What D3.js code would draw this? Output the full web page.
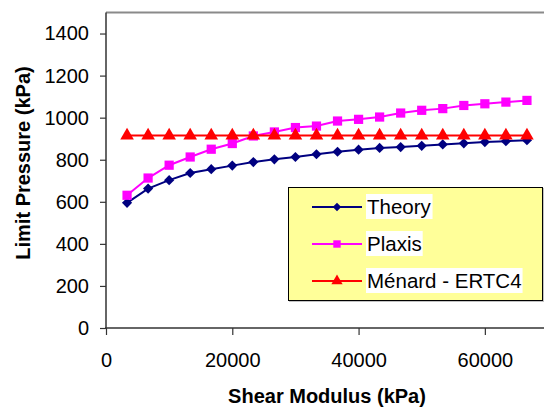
<!DOCTYPE html>
<html lang="en">
    <head>
       <meta charset="utf-8">
       <script src="https://d3js.org/d3.v7.min.js"></script>
       <style>
           body { margin: 0; background: #fff; }
           text { font-family: "Liberation Sans", Arial, sans-serif; }
       </style>
    </head>
    <body>

        <script>
            var width  = 544;
            var height = 407;

            // shear modulus (kPa)
            var shearModulus = [3333, 6667, 10000, 13333, 16667, 20000, 23333, 26667, 30000, 33333,
                                36667, 40000, 43333, 46667, 50000, 53333, 56667, 60000, 63333, 66667];

            // limit pressure (kPa) for each series
            var theory = [595, 663, 703, 737, 755, 772, 789, 802, 813, 826,
                          838, 848, 856, 860, 866, 873, 878, 884, 888, 893];
            var plaxis = [631, 713, 774, 813, 850, 877, 913, 932, 953, 960,
                          984, 992, 1003, 1022, 1035, 1043, 1058, 1066, 1074, 1082];
            var menard = [915, 915, 915, 915, 915, 915, 915, 915, 915, 915,
                          915, 915, 915, 915, 915, 915, 915, 915, 915, 915];

            var seriesNames  = ["Theory", "Plaxis", "Ménard - ERTC4"];
            var seriesColors = ["#000080", "#FF00FF", "#FF0000"];
            var seriesShapes = [d3.symbolSquare, d3.symbolSquare, d3.symbolTriangle];
            var seriesRotate = [45, 0, 0];
            var markerSize   = [52, 85, 80];
            var legendSize   = [36, 55, 55];
            var seriesValues = [theory, plaxis, menard];

            var xTicks = [0, 20000, 40000, 60000];
            var yTicks = [0, 200, 400, 600, 800, 1000, 1200, 1400];

            // plot area edges (avoid window.top)
            var plotLeft = 106, plotTop = 12.5, plotBottom = 328;

            var x = d3.scaleLinear().domain([0, 70000]).range([plotLeft, plotLeft + 442]);
            var y = d3.scaleLinear().domain([0, 1500]).range([plotBottom, plotTop]);

            var svg = d3.select("body")
                        .append("svg")
                        .attr("width", width)
                        .attr("height", height);

            // top border of the plot area
            svg.append("line")
               .attr("x1", plotLeft).attr("x2", width)
               .attr("y1", plotTop).attr("y2", plotTop)
               .attr("stroke", "#8a8a8a")
               .attr("stroke-width", 2);

            // axes
            var yAxis = svg.append("g")
                           .attr("transform", "translate(" + plotLeft + ",0)")
                           .call(d3.axisLeft(y).tickValues(yTicks).tickFormat(d3.format("d"))
                                   .tickSize(6).tickPadding(11).tickSizeOuter(0));
            var xAxis = svg.append("g")
                           .attr("transform", "translate(0," + plotBottom + ")")
                           .call(d3.axisBottom(x).tickValues(xTicks).tickFormat(d3.format("d"))
                                   .tickSize(7).tickPadding(17.5).tickSizeOuter(0));

            [xAxis, yAxis].forEach(function(a) {
                a.select(".domain").attr("stroke", "#333").attr("stroke-width", 1.5);
                a.selectAll(".tick line").attr("stroke", "#333").attr("stroke-width", 1.2);
                a.selectAll(".tick text")
                 .attr("fill", "#000")
                 .style("font-size", "20px")
                 .style("font-family", "'Liberation Sans', Arial, sans-serif");
            });
            yAxis.select(".domain").attr("d", "M0," + plotBottom + "V" + plotTop);
            xAxis.select(".domain").attr("d", "M" + (plotLeft - 1) + ",0H" + width);

            // axis titles
            svg.append("text")
               .attr("x", 327)
               .attr("y", 403)
               .attr("text-anchor", "middle")
               .style("font-size", "20px")
               .style("font-weight", "bold")
               .text("Shear Modulus (kPa)");

            svg.append("text")
               .attr("transform", "translate(30,163) rotate(-90)")
               .attr("text-anchor", "middle")
               .style("font-size", "20px")
               .style("font-weight", "bold")
               .text("Limit Pressure (kPa)");

            // series: line + markers
            var line = d3.line()
                         .x(function(d, i) { return x(shearModulus[i]); })
                         .y(function(d) { return y(d); });

            seriesValues.forEach(function(vals, k) {
                svg.append("path")
                   .attr("d", line(vals))
                   .attr("fill", "none")
                   .attr("stroke", seriesColors[k])
                   .attr("stroke-width", 2);

                svg.selectAll(".m" + k)
                   .data(vals)
                   .enter().append("path")
                   .attr("class", "m" + k)
                   .attr("transform", function(d, i) {
                       return "translate(" + x(shearModulus[i]) + "," + y(d) + ") rotate(" + seriesRotate[k] + ")";
                   })
                   .attr("d", d3.symbol().type(seriesShapes[k]).size(markerSize[k]))
                   .attr("fill", seriesColors[k]);
            });

            // legend
            var legend = svg.append("g");
            legend.append("rect")
                  .attr("x", 289).attr("y", 188)
                  .attr("width", 256).attr("height", 114)
                  .attr("fill", "#999")
                  .attr("opacity", 0.6);
            legend.append("rect")
                  .attr("x", 288.5).attr("y", 187.5)
                  .attr("width", 254).attr("height", 113)
                  .attr("fill", "#FFFF99")
                  .attr("stroke", "#000")
                  .attr("stroke-width", 1);

            var rowY = [207, 244, 281];
            seriesNames.forEach(function(name, k) {
                var g = legend.append("g").attr("transform", "translate(0," + rowY[k] + ")");
                g.append("line")
                 .attr("x1", 312).attr("x2", 362)
                 .attr("y1", 0).attr("y2", 0)
                 .attr("stroke", seriesColors[k])
                 .attr("stroke-width", 2);
                g.append("path")
                 .attr("transform", "translate(337,0) rotate(" + seriesRotate[k] + ")")
                 .attr("d", d3.symbol().type(seriesShapes[k]).size(legendSize[k]))
                 .attr("fill", seriesColors[k]);
                var t = g.append("text")
                         .attr("x", 367)
                         .attr("y", 7)
                         .style("font-size", "20.5px")
                         .text(name);
                var bb = t.node().getBBox();
                g.insert("rect", "text")
                 .attr("x", bb.x - 1).attr("y", -13)
                 .attr("width", bb.width + 2).attr("height", 25)
                 .attr("fill", "#fff");
            });
        </script>

    </body>
</html>
